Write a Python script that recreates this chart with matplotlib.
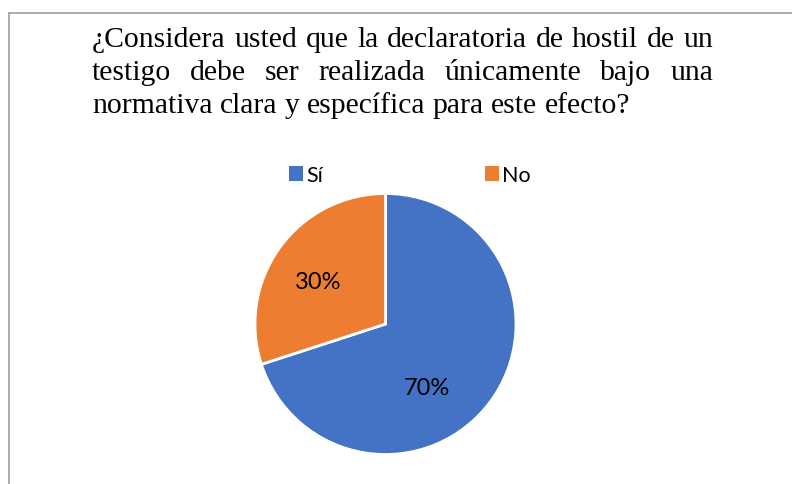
import matplotlib
matplotlib.use("Agg")
import matplotlib.pyplot as plt
from matplotlib.lines import Line2D
from matplotlib.patches import Patch

# data
categories = ["Sí", "No"]
values = [70, 30]
colors = ["#4472C4", "#ED7D31"]
title_lines = [
    "¿Considera usted que la declaratoria de hostil de un",
    "testigo debe ser realizada únicamente bajo una",
    "normativa clara y específica para este efecto?",
]

W, H = 792, 485
fig = plt.figure(figsize=(W / 100, H / 100), dpi=100)
renderer = fig.canvas.get_renderer()

# frame (top and left edges of the chart box)
fig.add_artist(Line2D([9 / W, 1], [1 - 14 / H, 1 - 14 / H], color="#a6a6a6", lw=1.3))
fig.add_artist(Line2D([9 / W, 9 / W], [0, 1 - 14 / H], color="#a6a6a6", lw=1.3))

# title, justified like the Word text box
x0, x1 = 92, 713
baselines = [47, 80, 113]
tfont = dict(family="Liberation Serif", size=21.3, color="black")


def text_width(s):
    t = fig.text(0, 0, s, **tfont)
    w = t.get_window_extent(renderer).width
    t.remove()
    return w


def draw_line(text, base, justify):
    words = text.split(" ")
    widths = [text_width(w) for w in words]
    space = text_width("a a") - 2 * text_width("a")
    if justify and len(words) > 1:
        gap = (x1 - x0 - sum(widths)) / (len(words) - 1)
    else:
        gap = space
    x = x0
    for w, wd in zip(words, widths):
        fig.text(x / W, 1 - base / H, w, va="baseline", ha="left", **tfont)
        x += wd + gap


for i, line in enumerate(title_lines):
    draw_line(line, baselines[i], justify=(i < len(title_lines) - 1))

# pie
cx, cy, r = 385.5, 325, 130.5
ax = fig.add_axes([(cx - r) / W, (H - cy - r) / H, 2 * r / W, 2 * r / H])
wedges, _, autotexts = ax.pie(
    values, colors=colors, startangle=90, counterclock=False,
    autopct="%1.0f%%", pctdistance=0.6,
    wedgeprops=dict(edgecolor="white", linewidth=2),
    textprops=dict(family="Lato", size=17, color="black"),
)
ax.set_xlim(-1, 1)
ax.set_ylim(-1, 1)
ax.set_aspect("equal")
autotexts[0].set_position((0.318, -0.483))
autotexts[1].set_position((-0.517, 0.322))

handles = [Patch(facecolor=c, edgecolor="none") for c in colors]
fig.legend(handles, categories, loc="center", bbox_to_anchor=(410 / W, 1 - 176 / H),
           ncol=2, frameon=False, handlelength=0.65, handleheight=0.65,
           handletextpad=0.15, columnspacing=7.5,
           prop=dict(family="Lato", size=15.5))

fig.savefig("out.png", dpi=100)
